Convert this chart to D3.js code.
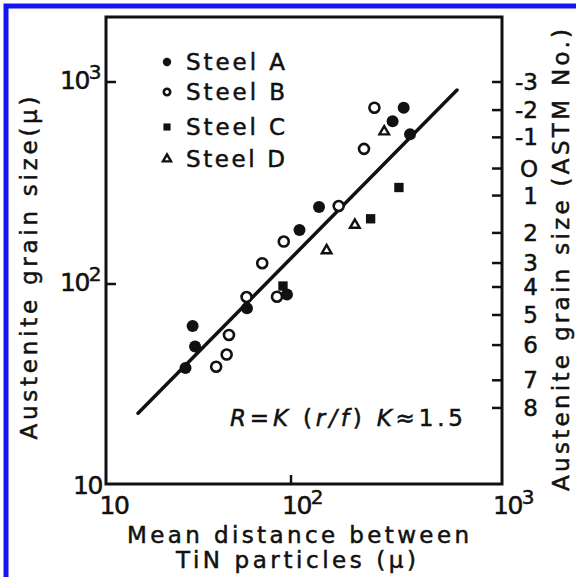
<!DOCTYPE html>
<html><head><meta charset="utf-8">
<script src="https://cdn.jsdelivr.net/npm/d3@7"></script>
<style>
body{margin:0;background:#fff}
svg{display:block}
text{font-family:"DejaVu Sans",sans-serif;fill:#111;stroke:#111;stroke-width:0.5}
</style>
</head><body><script>
// ---- data ----
const steelA = [[29.4,61.7],[30.3,48.7],[26.9,38.0],[57.8,75.7],[95.1,88.6],[109.7,185],[135.8,240.5],[303,639],[342,746],[366.6,551]];
const steelB = [[39.4,38.6],[44.9,44.4],[46.2,55.6],[57.5,86.1],[69.9,126.7],[91.4,162.3],[84.0,86.4],[168.3,243.3],[221.8,466.6],[248.5,746]];
const steelC = [[90.5,97.7],[238.4,210.3],[324.7,300.4]];
const steelD = [[147.5,146.5],[200.7,195.9],[276.5,568]];
const fitLine = [[14.9,22.6],[612,912]];
const legendLabels = ["Steel A","Steel B","Steel C","Steel D"];
const xTicks = [10,100,1000];
const yTicks = [10,100,1000];
const astmLabels = ["-3","-2","-1","O","1","2","3","4","5","6","7","8"];
const astmSizes = [1000,726,532,373,274,179,127,96.6,70,49.5,33,24];

// ---- layout ----
const W=576,H=577;
const svg=d3.select("body").append("svg").attr("width",W).attr("height",H);
svg.append("rect").attr("width",W).attr("height",H).attr("fill","#fff");
svg.append("path").attr("d","M6,577V6H576").attr("fill","none").attr("stroke","#1414f5").attr("stroke-width",5);

const L=106,R=502,T=17,B=484;
// The scanned axis is not perfectly uniform: anchor each decade where the reference puts it
const x=d3.scaleLog().domain(xTicks).range([106,291,502]);
const y=d3.scaleLog().domain(yTicks).range([484,284,82]);

const ink="#111";
const g=svg.append("g");
g.append("rect").attr("x",L).attr("y",T).attr("width",R-L).attr("height",B-T)
 .attr("fill","none").attr("stroke",ink).attr("stroke-width",3);

g.append("g").selectAll("line").data(yTicks.slice(1)).join("line")
 .attr("x1",L).attr("x2",L+10).attr("y1",d=>y(d)).attr("y2",d=>y(d)).attr("stroke",ink).attr("stroke-width",2.5);
g.append("g").selectAll("line").data([100]).join("line")
 .attr("x1",d=>x(d)).attr("x2",d=>x(d)).attr("y1",B).attr("y2",B-9).attr("stroke",ink).attr("stroke-width",2.5);
g.append("g").selectAll("line").data(astmSizes).join("line")
 .attr("x1",R).attr("x2",R-10).attr("y1",d=>y(d)).attr("y2",d=>y(d)).attr("stroke",ink).attr("stroke-width",2.5);

function powLabel(sel,base,exp){
  sel.append("tspan").text(base);
  if(exp) sel.append("tspan").attr("dy",-10).attr("font-size",20).text(exp);
}
[[1000,"3"],[100,"2"]].forEach(([v,e])=>{
  const t=svg.append("text").attr("x",60).attr("y",y(v)+7).attr("font-size",25).attr("letter-spacing",-1.5);
  powLabel(t,"10",e);
});
svg.append("text").attr("x",73).attr("y",494).attr("font-size",25).attr("letter-spacing",-1.5).text("10");
svg.append("text").attr("x",x(10)+8).attr("y",514).attr("text-anchor","middle").attr("font-size",25).attr("letter-spacing",-1.5).text("10");
[[100,"2"],[1000,"3"]].forEach(([v,e])=>{
  const t=svg.append("text").attr("x",x(v)-9).attr("y",514).attr("font-size",25).attr("letter-spacing",-1.5);
  powLabel(t,"10",e);
});
svg.append("g").selectAll("text").data(astmLabels).join("text")
 .attr("x",538).attr("y",(d,i)=>y(astmSizes[i])+8).attr("text-anchor","end").attr("font-size",23)
 .text(d=>d);

svg.append("text").attr("transform","translate(37,268) rotate(-90)").attr("text-anchor","middle")
 .attr("font-size",23).attr("textLength",343).attr("lengthAdjust","spacing").text("Austenite grain size(\u03bc)");
svg.append("text").attr("transform","translate(569,260) rotate(-90)").attr("text-anchor","middle")
 .attr("font-size",23).attr("textLength",462).attr("lengthAdjust","spacing").text("Austenite grain size (ASTM No.)");
svg.append("text").attr("x",298).attr("y",543).attr("text-anchor","middle")
 .attr("font-size",23).attr("textLength",342).attr("lengthAdjust","spacing").text("Mean distance between");
svg.append("text").attr("x",296).attr("y",568).attr("text-anchor","middle")
 .attr("font-size",23).attr("textLength",240).attr("lengthAdjust","spacing").text("TiN particles (\u03bc)");

const ann=svg.append("text").attr("x",230).attr("y",426).attr("font-size",23).attr("textLength",233).attr("lengthAdjust","spacing");
ann.append("tspan").attr("font-style","italic").text("R");
ann.append("tspan").text("=");
ann.append("tspan").attr("font-style","italic").text("K");
ann.append("tspan").text(" (");
ann.append("tspan").attr("font-style","italic").text("r/f");
ann.append("tspan").text(")  ");
ann.append("tspan").attr("font-style","italic").text("K");
ann.append("tspan").text("\u22481.5");

svg.append("path").datum(fitLine).attr("d",d3.line().x(d=>x(d[0])).y(d=>y(d[1])))
 .attr("stroke",ink).attr("stroke-width",3.5).attr("fill","none").attr("stroke-linecap","round");

function styleMarker(sel,kind,size){
  if(kind==="A") sel.attr("d",d3.symbol(d3.symbolCircle,Math.PI*size*size)).attr("fill",ink);
  if(kind==="B") sel.attr("d",d3.symbol(d3.symbolCircle,Math.PI*(size-1)*(size-1))).attr("fill","#fff").attr("stroke",ink).attr("stroke-width",2.6);
  if(kind==="C") sel.attr("d",d3.symbol(d3.symbolSquare,(size*1.7)*(size*1.7))).attr("fill",ink);
  if(kind==="D") sel.attr("d",d3.symbol(d3.symbolTriangle,size*size*1.6)).attr("fill","#fff").attr("stroke",ink).attr("stroke-width",2.4);
}
function drawSeries(data,kind,size){
  const sel=svg.append("g").selectAll("path").data(data).join("path")
   .attr("transform",d=>`translate(${x(d[0])},${y(d[1])})`);
  styleMarker(sel,kind,size);
}
drawSeries(steelB,"B",6);
drawSeries(steelD,"D",5);
drawSeries(steelC,"C",5.5);
drawSeries(steelA,"A",6);

const kinds=["A","B","C","D"];
const legY=[62,92,127,159];
const lg=svg.append("g");
legendLabels.forEach((lab,i)=>{
  const m=lg.append("path").attr("transform",`translate(167,${legY[i]})`);
  styleMarker(m,kinds[i],4.2);
  lg.append("text").attr("x",186).attr("y",legY[i]+8).attr("font-size",23).attr("textLength",99).attr("lengthAdjust","spacing").text(lab);
});
</script></body></html>
